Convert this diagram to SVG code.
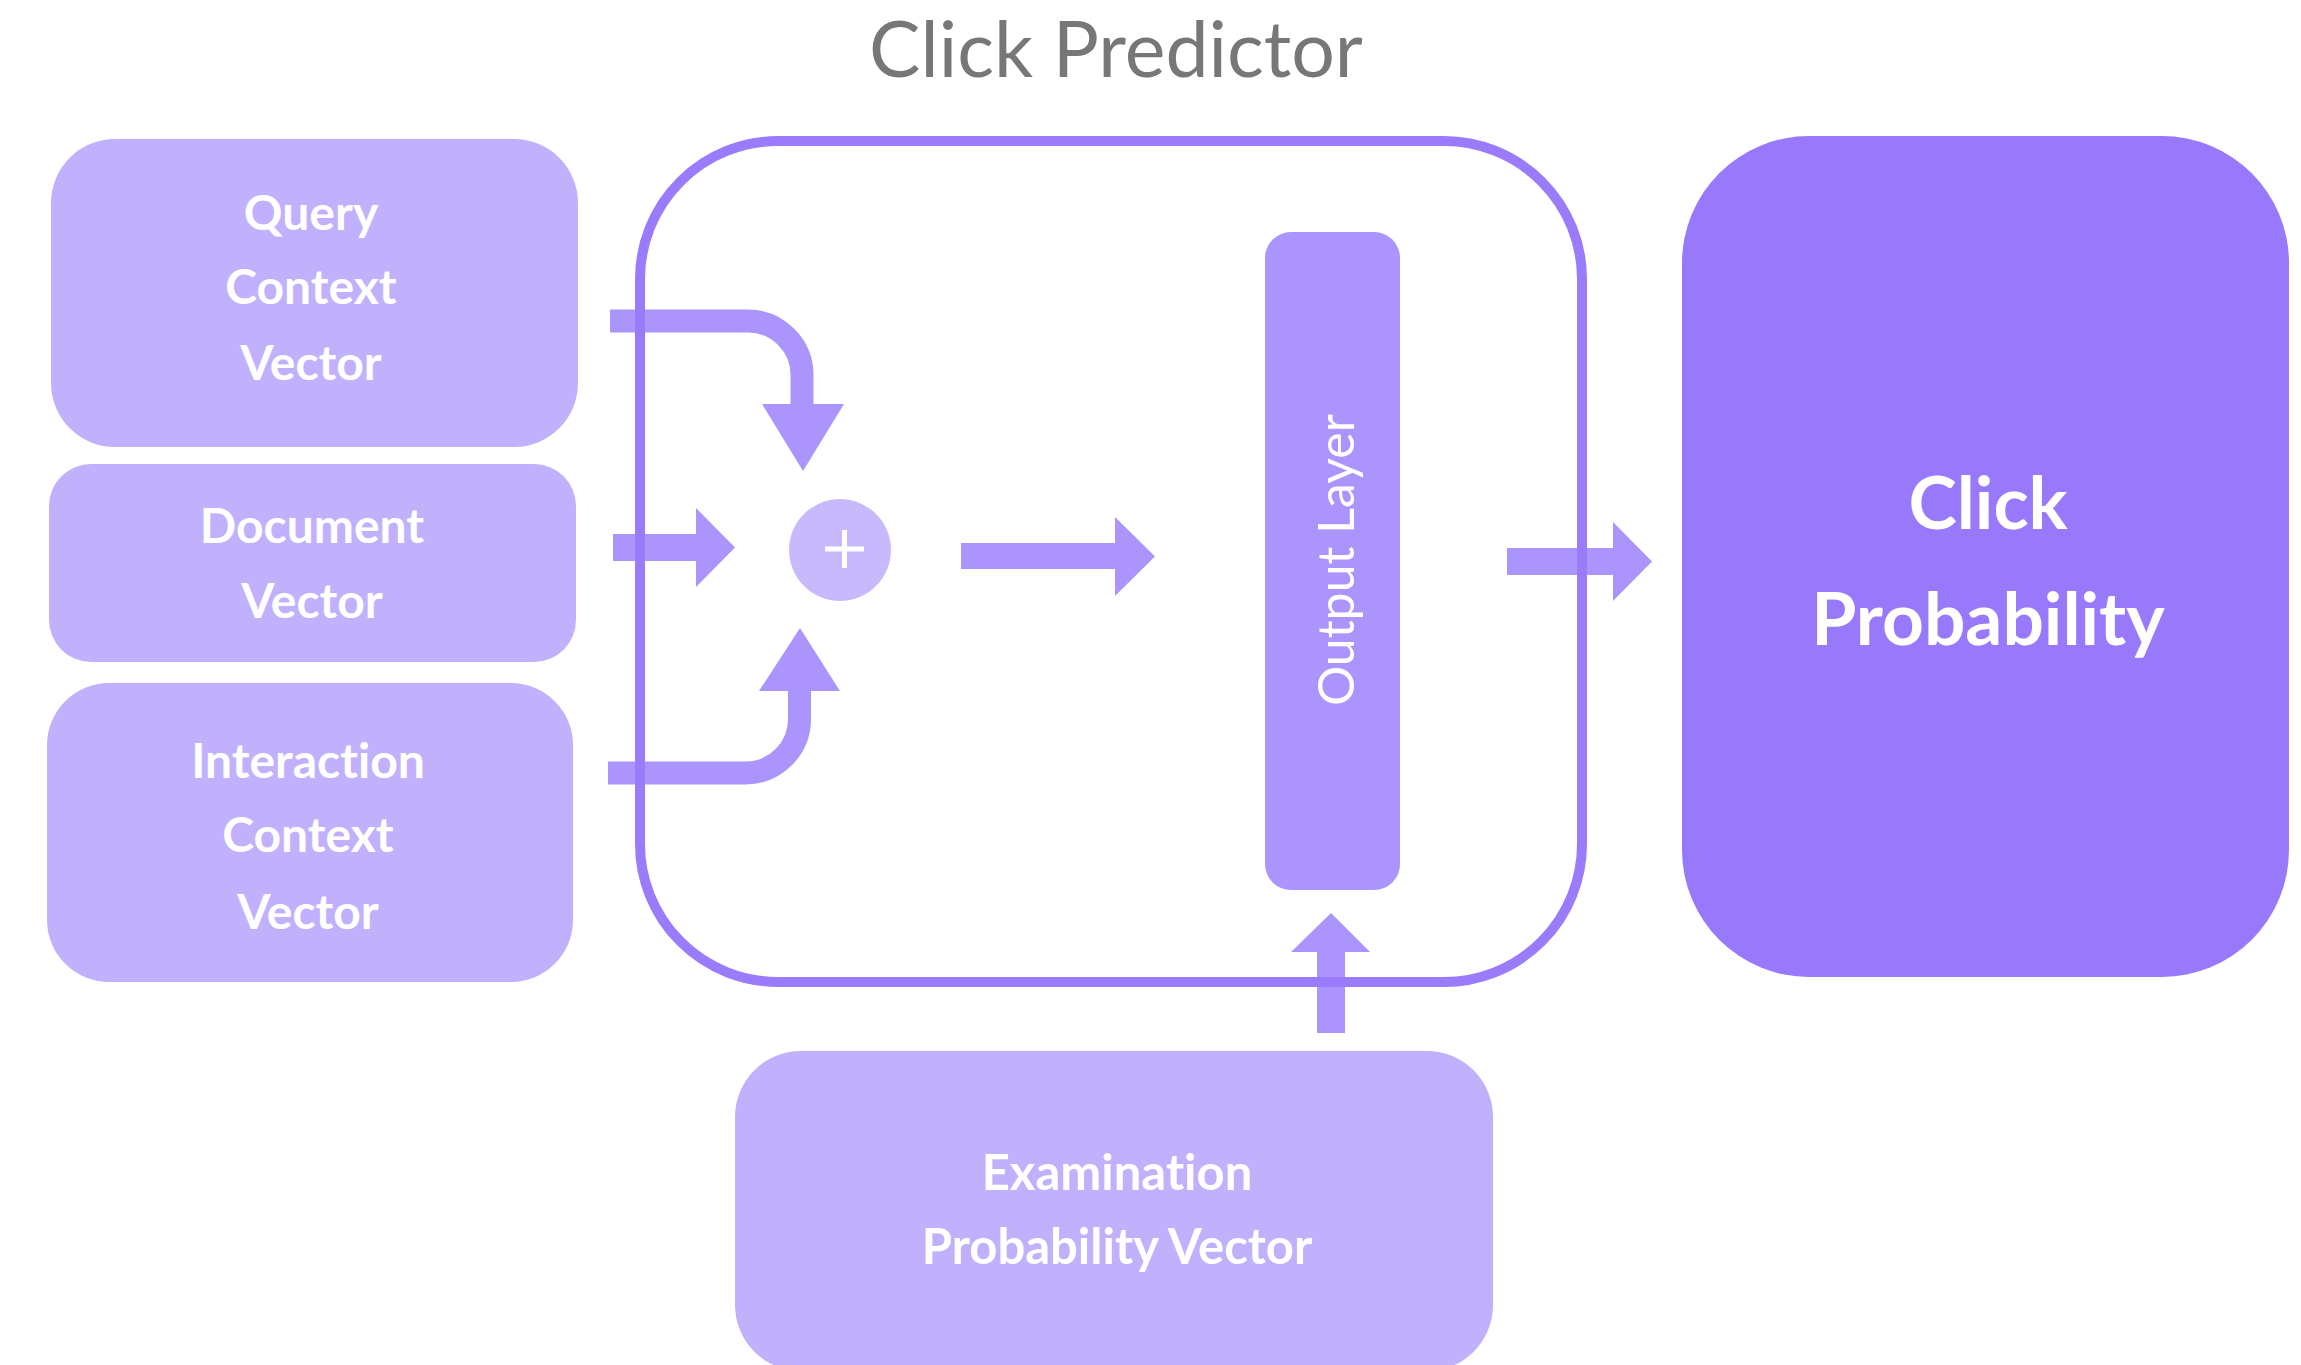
<svg xmlns="http://www.w3.org/2000/svg" width="2301" height="1365" viewBox="0 0 2301 1365">
<style>
text{font-variant-ligatures:none;font-feature-settings:"liga" 0,"dlig" 0}
.in{fill:#C1B1FD}
.lbl{font-family:Lato,"Open Sans","Liberation Sans",sans-serif;font-weight:bold;fill:#FFFFFF;text-anchor:middle}
.arr{fill:#AB95FD}
.arrs{fill:none;stroke:#AB95FD;stroke-width:23}
</style>
<rect width="2301" height="1365" fill="#FFFFFF"/>
<g id="query">
<rect class="in" x="51" y="139" width="527" height="308" rx="64"/>
<text class="lbl" font-size="48"><tspan x="311" y="230">Query</tspan><tspan x="311" y="304">Context</tspan><tspan x="311" y="380">Vector</tspan></text>
</g>
<g id="document">
<rect class="in" x="49" y="464" width="527" height="198" rx="42"/>
<text class="lbl" font-size="48"><tspan x="312" y="543">Document</tspan><tspan x="312" y="618">Vector</tspan></text>
</g>
<g id="interaction">
<rect class="in" x="47" y="683" width="526" height="299" rx="62"/>
<text class="lbl" font-size="48"><tspan x="308" y="778">Interaction</tspan><tspan x="308" y="852">Context</tspan><tspan x="308" y="929">Vector</tspan></text>
</g>
<g id="examination">
<rect class="in" x="735" y="1051" width="758" height="320" rx="66"/>
<text class="lbl" font-size="49"><tspan x="1117" y="1190">Examination</tspan><tspan x="1117" y="1264">Probability Vector</tspan></text>
</g>
<g id="sum">
<circle cx="840" cy="550" r="51" fill="#C8B9FD"/>
<path d="M825 549H864M844.5 530V568" stroke="#FFFFFF" stroke-width="5" fill="none"/>
</g>
<g id="output-layer">
<rect x="1265" y="232" width="135" height="658" rx="26" fill="#AB95FD"/>
<text transform="translate(1354,560) rotate(-90)" font-family="Lato,'Open Sans','Liberation Sans',sans-serif" font-size="50" fill="#FFFFFF" text-anchor="middle">Output Layer</text>
</g>
<g id="click-probability">
<rect x="1682" y="136" width="607" height="841" rx="127" fill="#9879FC"/>
<text class="lbl" font-size="73"><tspan x="1988" y="529">Click</tspan><tspan x="1988" y="645">Probability</tspan></text>
</g>
<g id="connectors">
<path class="arrs" d="M610 321H748A54 54 0 0 1 802 375V405"/>
<polygon class="arr" points="762,404 844,404 803,471"/>
<rect class="arr" x="613" y="534" width="84" height="27"/>
<polygon class="arr" points="696,508 696,587 735,547.5"/>
<path class="arrs" d="M608 773H745.5A54 54 0 0 0 799.5 719V690"/>
<polygon class="arr" points="759,691 840,691 800,628"/>
<rect class="arr" x="961" y="543" width="155" height="26"/>
<polygon class="arr" points="1115,517 1115,596 1155,556.5"/>
<rect class="arr" x="1507" y="548" width="107" height="27"/>
<polygon class="arr" points="1613,522 1613,601 1652,561.5"/>
<rect class="arr" x="1317" y="951" width="28" height="82"/>
<polygon class="arr" points="1291,952 1370,952 1331,913"/>
</g>
<g id="click-predictor">
<text x="1116" y="77" font-family="Lato,'Open Sans','Liberation Sans',sans-serif" font-size="77" fill="#777777" text-anchor="middle">Click Predictor</text>
<rect x="640" y="141" width="942" height="841" rx="138" fill="none" stroke="#9A7BFC" stroke-width="10"/>
</g>
</svg>
